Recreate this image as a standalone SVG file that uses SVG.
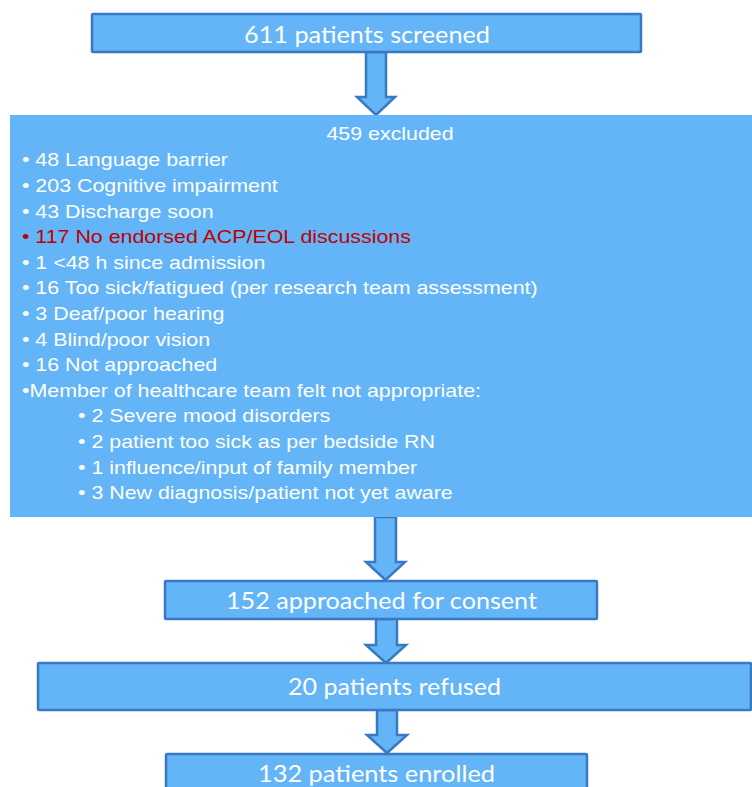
<svg xmlns="http://www.w3.org/2000/svg" width="752" height="787" viewBox="0 0 752 787">
<style>
.box{fill:#63B5F7;stroke:#3978C3;stroke-width:2.5}
.arrow{fill:#63B5F7;stroke:#3978C3;stroke-width:2.5;stroke-linejoin:miter}
.bt{font-family:Lato,"Open Sans",sans-serif;font-size:24px;fill:#ffffff;text-anchor:middle}
.lt{font-family:"Liberation Sans",Arial,sans-serif;font-size:19px;fill:#ffffff}
.red{fill:#C00000}
</style>
<rect width="752" height="787" fill="#ffffff"/>
<g id="connectors">
<polygon class="arrow" points="366,52 386,52 386,97 395,97 376,115 357,97 366,97"/>
<polygon class="arrow" points="375,517 396,517 396,562 405,562 385.5,580 366,562 375,562"/>
<polygon class="arrow" points="376,619 397,619 397,645 406,645 386,663 366,645 376,645"/>
<polygon class="arrow" points="377,710 397,710 397,735 407,735 387,753 367,735 377,735"/>
</g>
<g id="n1">
<rect class="box" x="92" y="14" width="549" height="38" rx="1"/>
<text class="bt" x="367" y="43" textLength="246" lengthAdjust="spacingAndGlyphs">611 patients screened</text>
</g>
<g id="n2">
<rect x="10" y="115" width="742" height="402" fill="#63B5F7"/>
<g transform="scale(1.126 1)">
<text class="lt" x="346.4" y="140" text-anchor="middle">459 excluded</text>
<text class="lt" x="19.5" y="166.5">• 48 Language barrier</text>
<text class="lt" x="19.5" y="192.1">• 203 Cognitive impairment</text>
<text class="lt" x="19.5" y="217.7">• 43 Discharge soon</text>
<text class="lt red" x="19.5" y="243.3">• 117 No endorsed ACP/EOL discussions</text>
<text class="lt" x="19.5" y="268.9">• 1 &lt;48 h since admission</text>
<text class="lt" x="19.5" y="294.5">• 16 Too sick/fatigued (per research team assessment)</text>
<text class="lt" x="19.5" y="320.1">• 3 Deaf/poor hearing</text>
<text class="lt" x="19.5" y="345.7">• 4 Blind/poor vision</text>
<text class="lt" x="19.5" y="371.3">• 16 Not approached</text>
<text class="lt" x="19.5" y="396.9">•Member of healthcare team felt not appropriate:</text>
<text class="lt" x="69.3" y="422.5">• 2 Severe mood disorders</text>
<text class="lt" x="69.3" y="448.1">• 2 patient too sick as per bedside RN</text>
<text class="lt" x="69.3" y="473.7">• 1 influence/input of family member</text>
<text class="lt" x="69.3" y="499.3">• 3 New diagnosis/patient not yet aware</text>
</g>
</g>
<g id="n3">
<rect class="box" x="165" y="581" width="432" height="38" rx="1"/>
<text class="bt" x="381.5" y="609" textLength="311" lengthAdjust="spacingAndGlyphs">152 approached for consent</text>
</g>
<g id="n4">
<rect class="box" x="38" y="663" width="713" height="47" rx="1"/>
<text class="bt" x="394.5" y="695" textLength="213" lengthAdjust="spacingAndGlyphs">20 patients refused</text>
</g>
<g id="n5">
<rect class="box" x="166" y="754" width="421" height="40" rx="1"/>
<text class="bt" x="376.5" y="781.5" textLength="237" lengthAdjust="spacingAndGlyphs">132 patients enrolled</text>
</g>
</svg>
